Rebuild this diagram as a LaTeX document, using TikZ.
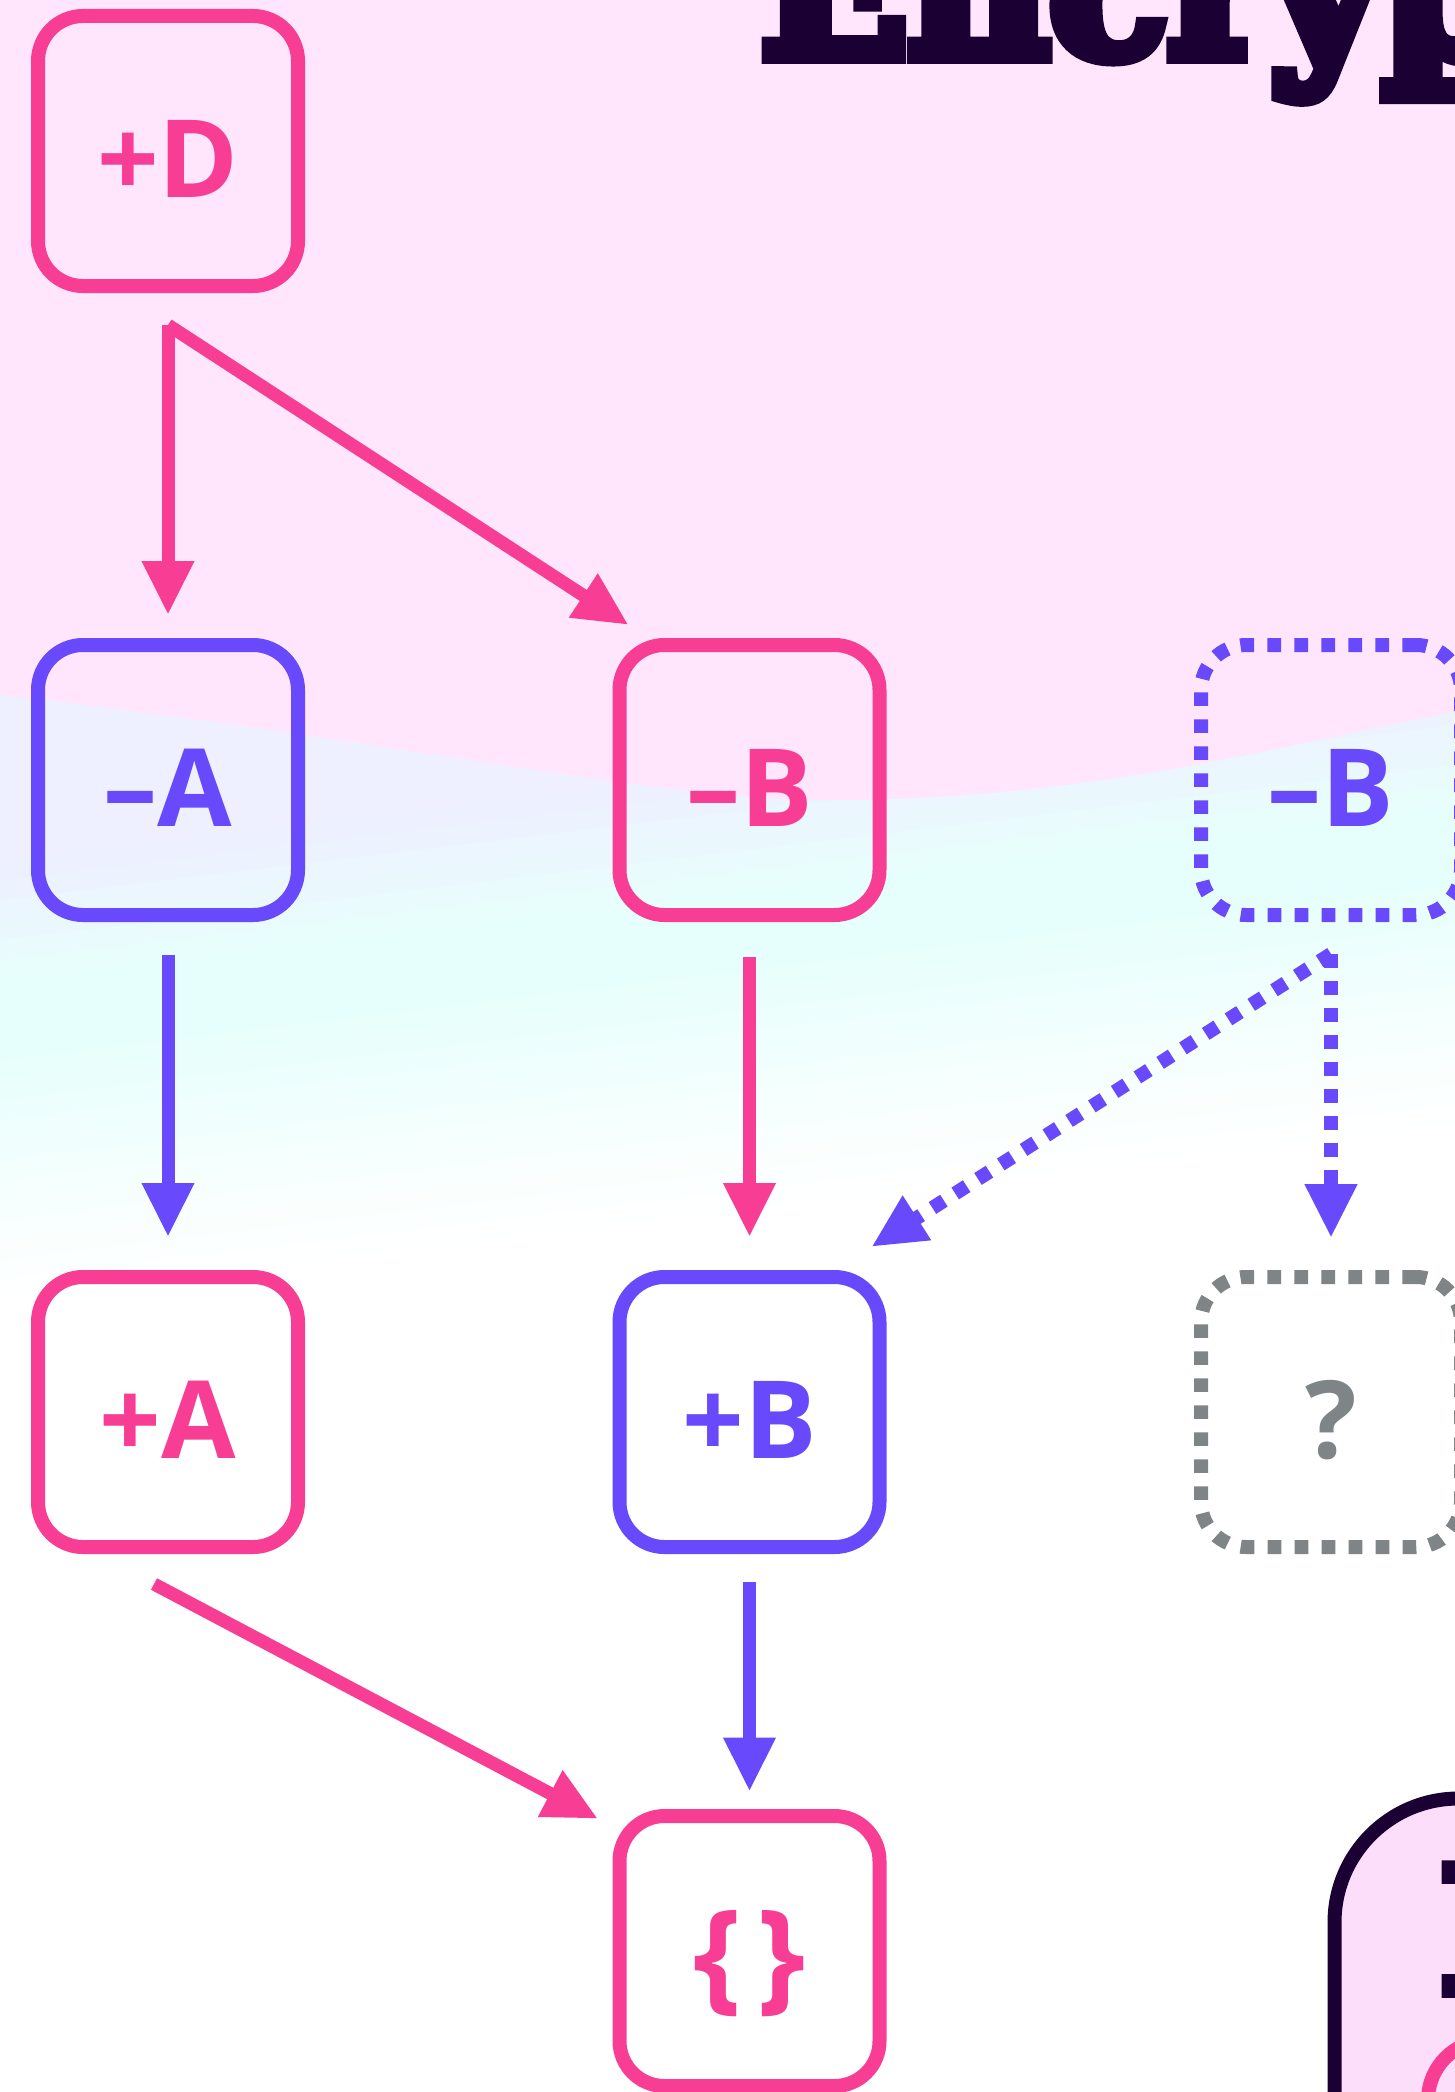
\documentclass[tikz,border=0pt]{standalone}
\usepackage{fontspec}
\usetikzlibrary{arrows.meta,calc}
\newfontfamily\boxfont{Open Sans}
\newfontfamily\titlefont{DejaVu Serif Bold}[FakeBold=8]
\definecolor{pinkc}{HTML}{F83E94}
\definecolor{bluec}{HTML}{6849FC}
\definecolor{grayc}{HTML}{7F8587}
\definecolor{darkc}{HTML}{1A0033}
\definecolor{bgpink}{HTML}{FFE6FD}
\definecolor{bglav}{HTML}{EEEFFF}
\definecolor{bgcyan}{HTML}{E7FFFC}
\definecolor{boxpink}{HTML}{FDDEFA}
\begin{document}
\begin{tikzpicture}[x=0.5pt,y=-0.5pt,
  box/.style={draw, line width=7pt, rounded corners=22.5pt, minimum width=130pt, minimum height=135pt, inner sep=0pt,
    font=\boxfont\bfseries\fontsize{54pt}{58pt}\selectfont, text height=46.6pt, text depth=0pt},
  dotbox/.style={box, dash pattern=on 6.8pt off 6.7pt},
  conn/.style={line width=6.5pt, shorten >=-4.5pt, -{Triangle[width=24.5pt,length=27pt]}},
  dotconn/.style={conn, line width=7pt, dash pattern=on 6.8pt off 6.7pt},
  bigserif/.style={anchor=base west, inner sep=0pt, text=darkc},
]
\useasboundingbox (0,0) rectangle (1455,2092);
\begin{scope}
\clip (0,0) rectangle (1455,2092);
% background: tilted band fading lavender -> cyan -> white
\fill[white] (0,0) rectangle (1455,2092);
\foreach \i in {0,...,36}{
  \pgfmathsetmacro\c{640+20*\i}
  \pgfmathsetmacro\pa{100*max(0,min(1,(\c-850)/120))}
  \pgfmathsetmacro\pw{100-100*max(0,min(1,(\c-1050)/240))}
  \fill[bgcyan!\pa!bglav!\pw!white] (0,\c) -- (1455,\c-175) -- (1455,2092) -- (0,2092) -- cycle;
}
\fill[bgpink] (0,0) -- (1455,0) -- (1455,712) .. controls (1300,740) and (1100,800) .. (830,800)
  .. controls (650,800) and (400,740) .. (0,695) -- cycle;

% title
\node[bigserif, font=\titlefont\fontsize{97pt}{100pt}\selectfont] (title) at (760,56) {Encryption};

% bottom-right panel
\draw[draw=darkc, fill=boxpink, line width=7pt, rounded corners=62pt] (1334.5,1798.5) rectangle (1900,2400);
\node[bigserif, font=\titlefont\fontsize{85pt}{88pt}\selectfont] (letter) at (1440,1991) {I};
\draw[pinkc, line width=7pt] (1488,2100) circle[radius=30pt];

% nodes
\node[box, draw=pinkc, text=pinkc] (D) at (168,151) {+D};
\node[box, draw=bluec, text=bluec] (Am) at (168,780) {–A};
\node[box, draw=pinkc, text=pinkc] (Bm) at (749.5,780) {–B};
\node[dotbox, draw=bluec, text=bluec] (Bd) at (1331,780) {–B};
\node[box, draw=pinkc, text=pinkc] (Ap) at (168,1412) {+A};
\node[box, draw=bluec, text=bluec] (Bp) at (749.5,1412) {+B};
\node[dotbox, draw=grayc, text=grayc] (Q) at (1331,1412) {?};
\node[box, draw=pinkc, text=pinkc] (E) at (749.5,1951) {\fontsize{61pt}{64pt}\selectfont\{\kern8pt\}};

% connectors
\draw[conn, pinkc] ($(D.south)+(0,32)$) -- ($(Am.north)+(0,-32)$);
\draw[conn, pinkc] ($(D.south)+(0,32)$) -- ($(Bm.north west)+(8.5,-18)$);
\draw[conn, bluec] ($(Am.south)+(0,33)$) -- ($(Ap.north)+(0,-42)$);
\draw[conn, pinkc] ($(Bm.south)+(0,35)$) -- ($(Bp.north)+(0,-42)$);
\draw[dotconn, bluec] ($(Bd.south)+(0,32)$) -- ($(Q.north)+(0,-41)$);
\draw[dotconn, bluec] ($(Bd.south)+(0,32)$) -- ($(Bp.north east)+(-7.5,-28)$);
\draw[conn, pinkc] ($(Ap.south)+(-14,30)$) -- ($(E.north west)+(-22.5,5.5)$);
\draw[conn, bluec] ($(Bp.south)+(0,28)$) -- ($(E.north)+(0,-26.5)$);
\end{scope}
\end{tikzpicture}
\end{document}
